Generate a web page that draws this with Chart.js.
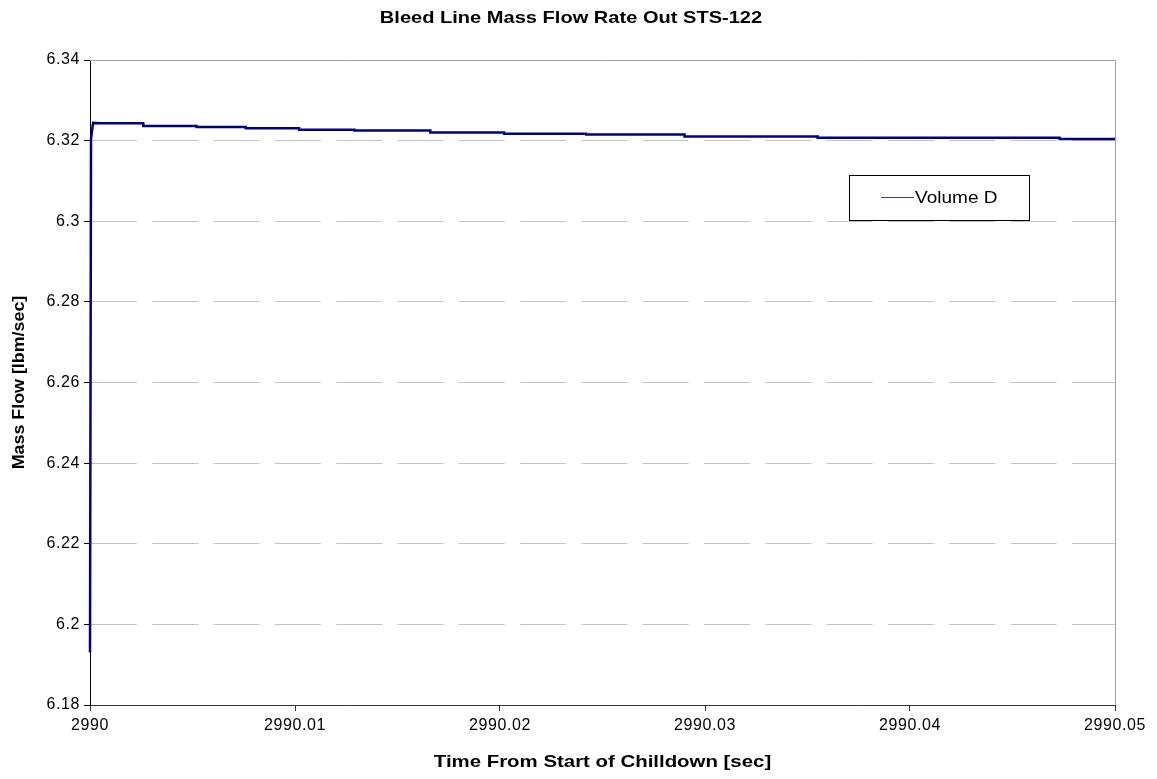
<!DOCTYPE html>
<html>
<head>
<meta charset="utf-8">
<title>Bleed Line Mass Flow Rate Out STS-122</title>
<script src="https://cdn.jsdelivr.net/npm/chart.js@4/dist/chart.umd.min.js"></script>
<style>
  body { margin: 0; background: #fff; }
</style>
</head>
<body>
<canvas id="chart" width="1157" height="779"></canvas>
<script>
const chartTitle = 'Bleed Line Mass Flow Rate Out STS-122';
const xAxisTitle = 'Time From Start of Chilldown [sec]';
const yAxisTitle = 'Mass Flow [lbm/sec]';
const seriesName = 'Volume D';

// time [sec] and mass flow [lbm/sec]
const timeSec = [2990, 2990.00005, 2990.00015, 2990.0005, 2990.0026, 2990.0026, 2990.0052, 2990.0052,
  2990.0076, 2990.0076, 2990.0102, 2990.0102, 2990.0129, 2990.0129, 2990.0166, 2990.0166,
  2990.0202, 2990.0202, 2990.0242, 2990.0242, 2990.029, 2990.029, 2990.0355, 2990.0355,
  2990.0473, 2990.0473, 2990.05];
const massFlow = [6.193, 6.3205, 6.3244, 6.3243, 6.3243, 6.3236, 6.3236, 6.3234,
  6.3234, 6.3231, 6.3231, 6.3227, 6.3227, 6.3225, 6.3225, 6.3220,
  6.3220, 6.3217, 6.3217, 6.3215, 6.3215, 6.3210, 6.3210, 6.3207,
  6.3207, 6.3204, 6.3204];

const xTicks = [2990, 2990.01, 2990.02, 2990.03, 2990.04, 2990.05];
const yTicks = [6.18, 6.2, 6.22, 6.24, 6.26, 6.28, 6.3, 6.32, 6.34];

const FONT = '"Liberation Sans", Arial, sans-serif';

// the source picture is stretched sideways, so text is drawn a bit wide
function wideText(ctx, text, x, y, sx, rot) {
  ctx.save();
  ctx.translate(x, y);
  if (rot) ctx.rotate(rot);
  ctx.scale(sx, 1);
  ctx.fillText(text, 0, 0);
  ctx.restore();
}

const spacing = {
  id: 'spacing',
  beforeDraw(chart) { chart.ctx.letterSpacing = '0.6px'; },
  afterDraw(chart) { chart.ctx.letterSpacing = '0px'; }
};

const excelBits = {
  id: 'excelBits',
  afterDraw(chart) {
    const { ctx, chartArea: a, scales } = chart;
    ctx.save();
    ctx.letterSpacing = '0px';
    // solid top gridline and right frame
    ctx.strokeStyle = '#a0a0a0';
    ctx.lineWidth = 1;
    ctx.beginPath();
    const yTop = Math.round(scales.y.getPixelForValue(yTicks[yTicks.length - 1])) + 0.5;
    ctx.moveTo(a.left, yTop);
    ctx.lineTo(a.right, yTop);
    ctx.moveTo(Math.round(a.right) + 0.5, yTop);
    ctx.lineTo(Math.round(a.right) + 0.5, a.bottom);
    ctx.stroke();

    ctx.fillStyle = '#000';
    ctx.textAlign = 'center';
    ctx.textBaseline = 'middle';

    ctx.font = 'bold 17px ' + FONT;
    wideText(ctx, chartTitle, 571, 18, 1.18);
    wideText(ctx, xAxisTitle, (a.left + a.right) / 2, 762, 1.2);
    wideText(ctx, yAxisTitle, 19, (a.top + a.bottom) / 2, 1.05, -Math.PI / 2);

    // legend box
    const ds = chart.data.datasets[0];
    const lx = 849, ly = 175, lw = 180, lh = 45;
    ctx.fillStyle = '#fff';
    ctx.fillRect(lx, ly, lw, lh);
    ctx.strokeStyle = '#000';
    ctx.strokeRect(lx + 0.5, ly + 0.5, lw, lh);
    ctx.strokeStyle = '#3a3a9a';
    ctx.lineWidth = 1;
    ctx.beginPath();
    ctx.moveTo(lx + 32, ly + 22.5);
    ctx.lineTo(lx + 65, ly + 22.5);
    ctx.stroke();
    ctx.fillStyle = '#000';
    ctx.font = '17px ' + FONT;
    ctx.textAlign = 'left';
    wideText(ctx, ds.label, lx + 66, ly + 23, 1.12);
    ctx.restore();
  }
};

new Chart(document.getElementById('chart'), {
  type: 'line',
  data: {
    datasets: [{
      label: seriesName,
      data: timeSec.map((t, i) => ({ x: t, y: massFlow[i] })),
      borderColor: '#000080',
      borderWidth: 2.5,
      pointRadius: 0,
      tension: 0,
      clip: 3
    }]
  },
  options: {
    responsive: false,
    animation: false,
    devicePixelRatio: 1,
    layout: { padding: { top: 60, right: 42, bottom: 0, left: 0 } },
    plugins: {
      legend: { display: false },
      title: { display: false },
      tooltip: { enabled: false }
    },
    scales: {
      x: {
        type: 'linear',
        min: xTicks[0],
        max: xTicks[xTicks.length - 1],
        afterBuildTicks: s => { s.ticks = xTicks.map(v => ({ value: v })); },
        afterFit: s => { s.height = 74; },
        grid: { drawOnChartArea: false, tickLength: 6, tickColor: '#333' },
        border: { color: '#333', width: 1 },
        ticks: {
          color: '#000',
          font: { family: FONT, size: 16 },
          padding: 5,
          maxRotation: 0,
          callback: v => String(parseFloat(Number(v).toFixed(2)))
        }
      },
      y: {
        min: yTicks[0],
        max: yTicks[yTicks.length - 1],
        afterBuildTicks: s => { s.ticks = yTicks.map(v => ({ value: v })); },
        afterFit: s => { s.width = 90; },
        grid: { color: '#c4c4c4', lineWidth: 1, tickLength: 6, tickColor: '#000' },
        border: { color: '#000', width: 1, dash: [46, 15.3] },
        ticks: {
          color: '#000',
          font: { family: FONT, size: 16 },
          padding: 4,
          callback: v => String(parseFloat(Number(v).toFixed(2)))
        }
      }
    }
  },
  plugins: [spacing, excelBits]
});
</script>
</body>
</html>
